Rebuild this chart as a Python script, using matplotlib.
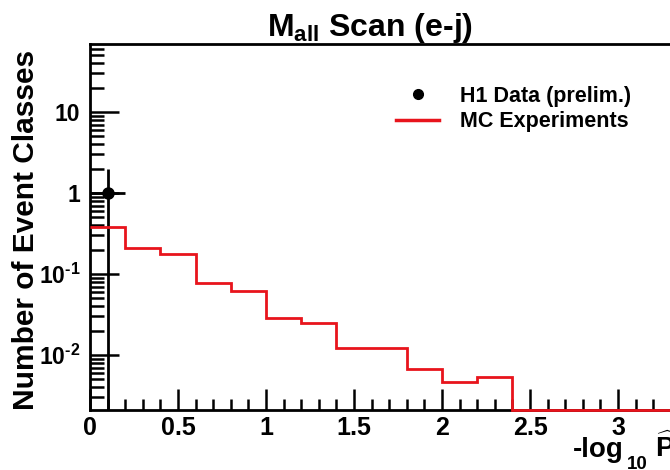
import numpy as np
import matplotlib
matplotlib.use("Agg")
import matplotlib.pyplot as plt
from matplotlib.lines import Line2D
from matplotlib.ticker import LogLocator, MultipleLocator, FixedLocator, FixedFormatter

plt.rcParams["font.family"] = ["Liberation Sans", "DejaVu Sans"]
plt.rcParams["font.weight"] = "bold"
plt.rcParams["mathtext.fontset"] = "custom"
plt.rcParams["mathtext.rm"] = "Liberation Sans:bold"
plt.rcParams["mathtext.it"] = "Liberation Sans:bold"
plt.rcParams["mathtext.bf"] = "Liberation Sans:bold"

# MC expectation: bin edges and contents (event classes per bin)
bin_edges = [0.0, 0.2, 0.4, 0.6, 0.8, 1.0, 1.2, 1.4, 1.6, 1.8, 2.0, 2.2, 2.4, 2.6, 2.8, 3.0, 3.2, 3.4]
mc_counts = [0.38, 0.21, 0.177, 0.077, 0.062, 0.029, 0.025, 0.0122, 0.0122,
             0.0067, 0.0047, 0.0054, 0.0, 0.0, 0.0, 0.0, 0.0]

# H1 data
data_x = [0.1]
data_xerr = [0.1]
data_y = [1.0]
data_yerr = [1.0]

y_ticks = [1e-2, 1e-1, 1, 10]
y_ticklabels = [r"$10^{\text{-2}}$", r"$10^{\text{-1}}$", "1", "10"]
x_ticks = [0, 0.5, 1, 1.5, 2, 2.5, 3]
x_ticklabels = ["0", "0.5", "1", "1.5", "2", "2.5", "3"]

ylim = (0.0021, 69)
xlim = (0.0, 3.5)

W, H = 670, 470
fig = plt.figure(figsize=(W / 100, H / 100), dpi=100)
ax = fig.add_axes([90 / W, 60 / H, 616 / W, 366 / H])
ax.set_yscale("log")
ax.set_xlim(*xlim)
ax.set_ylim(*ylim)

# MC histogram (empty bins sit on the lower axis edge)
mc_draw = np.maximum(np.array(mc_counts), ylim[0])
ax.stairs(mc_draw, bin_edges, color="#e8141c", lw=2.0, baseline=None,
          zorder=5, clip_on=False)

# data point with error bars
y = np.array(data_y)
yerr_lo = np.minimum(np.array(data_yerr), y - ylim[0])
ax.errorbar(data_x, data_y, xerr=data_xerr, yerr=[yerr_lo, data_yerr],
            fmt="o", color="black", ms=8, elinewidth=2.0, capsize=0, zorder=4)

for s in ax.spines.values():
    s.set_linewidth(2.0)
ax.spines["right"].set_visible(False)

ax.yaxis.set_major_locator(FixedLocator(y_ticks))
ax.yaxis.set_major_formatter(FixedFormatter(y_ticklabels))
ax.yaxis.set_minor_locator(LogLocator(base=10, subs=np.arange(2, 10), numticks=20))
ax.xaxis.set_major_locator(FixedLocator(x_ticks))
ax.xaxis.set_major_formatter(FixedFormatter(x_ticklabels))
ax.xaxis.set_minor_locator(MultipleLocator(0.1))
ax.yaxis.set_minor_formatter(plt.NullFormatter())

ax.tick_params(which="both", direction="in", width=1.8, top=False, right=False)
ax.tick_params(axis="y", which="major", length=21, labelsize=16.5, pad=7)
ax.tick_params(axis="y", which="minor", length=10)
ax.tick_params(axis="x", which="major", length=15, labelsize=18, pad=4)
ax.tick_params(axis="x", which="minor", length=8)
for lab in ax.get_xticklabels() + ax.get_yticklabels():
    lab.set_fontweight("bold")

fig.text(26 / W, 1 - 230 / H, "Number of Event Classes", fontsize=21.5,
         fontweight="bold", rotation=90, ha="center", va="center")

# x-axis title: -log10 P-hat
fig.text(573 / W, 1 - 457 / H, "-log", fontsize=20, fontweight="bold",
         ha="left", va="baseline")
fig.text(627 / W, 1 - 469 / H, "10", fontsize=13.5, fontweight="bold",
         ha="left", va="baseline")
fig.text(655 / W, 1 - 457 / H, r"$\widehat{\mathregular{P}}$", fontsize=20,
         ha="left", va="baseline")

fig.text(370 / W, 1 - 36 / H, r"M$_{\mathregular{all}}$ Scan (e-j)", fontsize=23,
         fontweight="bold", ha="center", va="baseline")

handles = [Line2D([], [], marker="o", color="black", ls="none", ms=7),
           Line2D([], [], color="#e8141c", lw=2.5)]
ax.legend(handles, ["H1 Data (prelim.)", "MC Experiments"],
          loc="upper left", bbox_to_anchor=(396 / W, 1 - 86 / H),
          bbox_transform=fig.transFigure, frameon=False,
          prop={"size": 15.5, "weight": "bold"}, handlelength=2.0,
          handletextpad=0.95, labelspacing=0.2, borderpad=0, borderaxespad=0)

fig.savefig("out.png", dpi=100)
